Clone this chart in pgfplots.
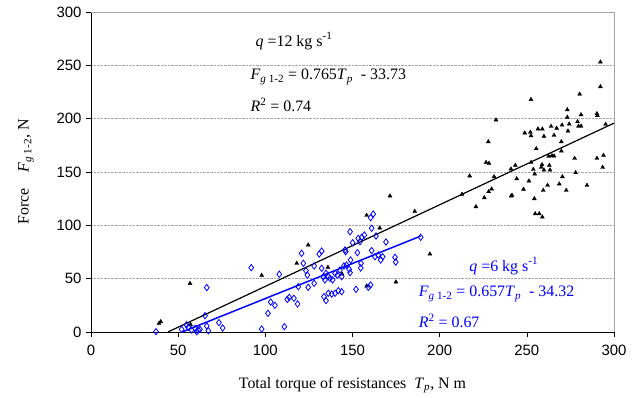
\documentclass[border=0pt]{standalone}
\usepackage{pgfplots}
\pgfplotsset{compat=1.18}
\usepackage{fontspec}
\setmainfont{Liberation Serif}
\newfontfamily\arial{Liberation Sans}
\definecolor{myblue}{RGB}{0,0,255}
\begin{document}
\begin{tikzpicture}
\begin{axis}[
  width=523bp, height=320bp, scale only axis,
  xmin=0, xmax=300, ymin=0, ymax=300,
  xtick={0,50,...,300}, ytick={0,50,...,300},
  xticklabels={0,50,100,150,200,250,300},
  yticklabels={0,50,100,150,200,250,300},
  axis x line*=bottom, axis y line*=left,
  axis line style={-, black, line width=0.8pt},
  tick align=outside, major tick length=5bp,
  tick style={black, line width=0.6pt},
  ymajorgrids, grid style={gray!70, densely dotted, line width=0.7pt},
  xticklabel style={font=\arial\fontsize{15}{18}\selectfont, yshift=-5bp},
  yticklabel style={font=\arial\fontsize{15}{18}\selectfont, xshift=-1bp},
  label style={font=\fontsize{16}{19}\selectfont},
  xlabel={Total torque of resistances\ \ \textit{T}\textsubscript{\textit{p}}, N m},
  ylabel={Force\quad \textit{F}\textsubscript{\textit{g} 1-2}, N},
  xlabel style={yshift=-14bp},
  ylabel style={yshift=16bp},
  clip=false,
]
\draw[gray!70, line width=0.7pt] (axis cs:0,300) -- (axis cs:300,300) -- (axis cs:300,0);
% q = 12 kg/s (black triangles)
\addplot[only marks, mark=triangle*, mark size=2.3pt, black] coordinates {
(292.2,253.1) (292.2,230) (280.3,223) (252.4,218) (273.2,208.4) (290.2,204.7) (290.5,203) (281.1,203.7) (273.2,201.3) (232.3,198.8) (279.1,197.2) (274.3,195) (279.6,193) (281.1,193) (295.2,194.7) (270.2,194) (263.9,192.8) (267.1,191) (256.4,190.3) (258.9,190.3) (273.6,188.4) (248.8,186.6) (252,187.2) (252.4,184) (259.8,183.5) (265.6,184.4) (227.9,178.4) (269.8,178.4) (255.4,171.9) (269.8,169.7) (262.5,164.7) (264.4,165.3) (265.6,165) (294,165.6) (277.4,162.8) (290.2,162.8) (226.6,159) (228.3,158.1) (252.4,159) (258.7,156.9) (262.9,156.2) (258.3,154.4) (259.8,151.9) (263.3,151.9) (243.4,156.2) (240.9,152.8) (253.7,152.5) (254.5,148.1) (293.5,154.4) (217.2,146.3) (231.2,145.6) (278,149.4) (270.4,145.6) (244.2,143.7) (251.2,141.6) (268.6,138.8) (261.9,137.5) (284.5,137.5) (229.8,134.1) (228.1,131.6) (248.1,133.8) (259.4,132.8) (272.6,132.8) (212.8,129.1) (241.5,128.1) (241,127.5) (225.6,125.9) (254.3,125) (220.8,117.5) (254.8,110.9) (257.1,110.9) (258.9,107.8)
(39,8.1) (40,9.7) (56.8,45.5) (57.1,7) (97.9,53.1) (171.5,127.5) (185.7,113.1) (158.1,109.4) (165.6,97.5) (124.6,81.6) (118,64.4) (194.4,73.1) (135.9,60.6) (144,54.4) (158.1,43.1) (174.9,46.9)
};
% q = 6 kg/s (blue diamonds)
\addplot[only marks, mark=diamond, mark size=3.2pt, myblue, mark options={line width=0.8pt}] coordinates {
(37.3,0.3) (52,2.5) (54.8,6.6) (55.8,4.4) (57.7,1.9) (59.7,3.4) (60.6,0.3) (61.5,1.9) (62.5,2.5) (66.4,41.6) (65.4,15.3) (66.4,5.6) (67.3,1.2) (73.4,8.8) (75.5,3.8) (91.9,60.3) (97.9,2.8) (101.5,17.5) (103.1,28.1) (105.5,25) (108,54.2) (110.9,5) (112.6,30.6) (113.7,32.5) (116.4,31.6) (118.5,26.3) (118.9,42.5) (120.8,73.8) (121.8,64.4) (123.3,57.5) (124.1,53.4) (124.6,41.9) (128,45.6) (128,61.9) (130.9,73.1) (132.3,75.9) (132.3,59.7) (133.3,51.9) (134.2,48.8) (134.8,55) (133.6,33.1) (134.8,29.4) (136.1,36.3) (138.1,35.6) (136.1,51.9) (137.1,50.3) (138.6,48.8) (140,55) (141.3,53.4) (142.8,58.1) (143.8,51.9) (140,36.3) (141.9,38.8) (143.8,37.8) (145.7,76.9) (146.1,75.3) (145.1,61.9) (146.6,62.8) (148.1,58.8) (148.6,55.6) (148.6,94) (148.9,67.5) (150.1,83.7) (152,40) (152.8,74.4) (153.3,87.8) (155.3,88.8) (156.8,90.9) (154.7,60) (154.9,64.4) (154.3,84.7) (159.1,41.9) (160.4,44.1) (160.4,107.2) (161.9,110.6) (161,97.2) (161,76.3) (163.5,90) (162.9,70.6) (164.8,72.2) (166.2,67.5) (167.3,70.6) (169.2,84.4) (174.4,70) (174.8,65.6) (189.1,88.8)
};
% regression lines
\addplot[black, line width=1.2pt] coordinates {(44.1,0) (300,195.8)};
\addplot[myblue, line width=1.5pt] coordinates {(52.2,0) (189.1,89.9)};
% annotations
\node[anchor=west, font=\fontsize{16}{19}\selectfont] at (axis cs:92.4,272.8) {\textit{q} =12 kg s\textsuperscript{-1}};
\node[anchor=west, font=\fontsize{16}{19}\selectfont] at (axis cs:89.5,239) {\textit{F}\textsubscript{\textit{g} 1-2} = 0.765\textit{T}\textsubscript{\textit{p}}\ \ - 33.73};
\node[anchor=west, font=\fontsize{16}{19}\selectfont] at (axis cs:89.5,212.8) {\textit{R}\textsuperscript{2} = 0.74};
\node[anchor=west, font=\fontsize{16}{19}\selectfont, text=myblue] at (axis cs:215,61.9) {\textit{q} =6 kg s\textsuperscript{-1}};
\node[anchor=west, font=\fontsize{16}{19}\selectfont, text=myblue] at (axis cs:186,35.6) {\textit{F}\textsubscript{\textit{g} 1-2} = 0.657\textit{T}\textsubscript{\textit{p}}\ \ - 34.32};
\node[anchor=west, font=\fontsize{16}{19}\selectfont, text=myblue] at (axis cs:186,10.3) {\textit{R}\textsuperscript{2} = 0.67};
\path (rel axis cs:0,0) ++(-91bp,-66bp) rectangle ++(643bp,398bp);
\end{axis}
\end{tikzpicture}
\end{document}
